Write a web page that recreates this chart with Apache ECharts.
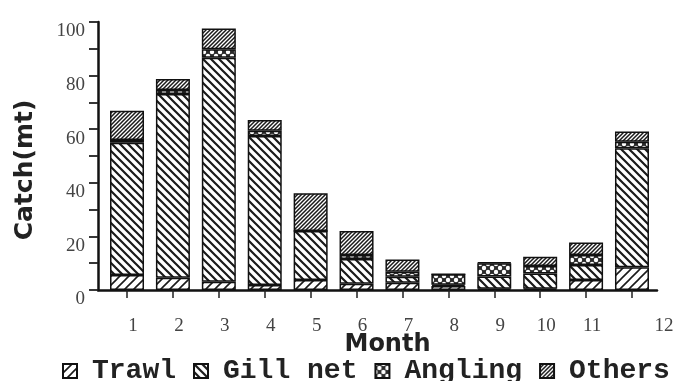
<!DOCTYPE html>
<html>
<head>
<meta charset="utf-8">
<script src="https://cdn.jsdelivr.net/npm/echarts@6/dist/echarts.min.js"></script>
<style>
html,body{margin:0;padding:0;background:#fff;}
#c{width:690px;height:381px;}
</style>
</head>
<body>
<div id="c"></div>
<script>
// ---- data ----
const months = [1, 2, 3, 4, 5, 6, 7, 8, 9, 10, 11, 12];
const monthLabels = ['1', '2', '3', '4', '5', '6', '7', '8', '9', '10', '11', '12'];
const seriesNames = ['Trawl', 'Gill net', 'Angling', 'Others'];
const trawl   = [5.6, 4.6, 3.1, 1.9, 3.7, 2.3, 2.7, 1.5, 0.5, 0.5, 3.7, 8.5];
const gillNet = [49.3, 68.5, 83.6, 55.6, 18.3, 9.3, 2.2, 0.5, 4.5, 5.7, 5.6, 44.4];
const angling = [1.1, 1.5, 3.1, 1.9, 0, 1.5, 1.9, 3.9, 5.0, 2.8, 3.8, 2.4];
const others  = [10.9, 4.1, 7.8, 4.0, 14.1, 8.9, 4.6, 0, 0.3, 3.4, 4.6, 3.8];
const yTicks = [0, 20, 40, 60, 80, 100];

// ---- patterns ----
function hatch(size, lw, dir) {
  const c = document.createElement('canvas');
  c.width = size; c.height = size;
  const g = c.getContext('2d');
  g.fillStyle = '#fff'; g.fillRect(0, 0, size, size);
  g.strokeStyle = '#1a1a1a'; g.lineWidth = lw;
  g.beginPath();
  if (dir === '/') {
    g.moveTo(0, size); g.lineTo(size, 0);
    g.moveTo(-size, size); g.lineTo(size, -size);
    g.moveTo(0, 2 * size); g.lineTo(2 * size, 0);
  } else {
    g.moveTo(0, 0); g.lineTo(size, size);
    g.moveTo(-size, 0); g.lineTo(size, 2 * size);
    g.moveTo(0, -size); g.lineTo(2 * size, size);
  }
  g.stroke();
  return { image: c, repeat: 'repeat' };
}
function dots() {
  const s = 8;
  const c = document.createElement('canvas');
  c.width = s; c.height = s;
  const g = c.getContext('2d');
  g.fillStyle = '#2a2a2a'; g.fillRect(0, 0, s, s);
  g.fillStyle = '#fff';
  [[0, 0], [s, 0], [0, s], [s, s], [s / 2, s / 2]].forEach(p => {
    g.beginPath(); g.arc(p[0], p[1], 2.2, 0, Math.PI * 2); g.fill();
  });
  return { image: c, repeat: 'repeat' };
}
const fills = [hatch(9, 1.6, '/'), hatch(8, 2.2, '\\'), dots(), hatch(4, 1.5, '/')];
const values = [trawl, gillNet, angling, others];

const chart = echarts.init(document.getElementById('c'), null, { renderer: 'canvas' });
const option = {
  backgroundColor: '#fff',
  animation: false,
  grid: { left: 98, right: 33, top: 22, bottom: 91, containLabel: false, outerBoundsMode: 'none' },
  legend: {
    left: 62, top: 357, padding: 0,
    itemWidth: 14, itemHeight: 14, itemGap: 17,
    icon: 'rect',
    data: seriesNames,
    textStyle: { fontFamily: 'Liberation Mono', fontSize: 28, fontWeight: 'bold', color: '#222', padding: [0, 0, 0, 10] }
  },
  xAxis: {
    type: 'value',
    min: 0.368, max: 12.545,
    name: 'Month', nameLocation: 'middle', nameGap: 43, nameMoveOverlap: false,
    nameTextStyle: { fontFamily: 'DejaVu Sans', fontWeight: 'bold', fontSize: 24, color: '#222', padding: [0, 0, 0, 20] },
    splitLine: { show: false },
    axisLine: { show: true, onZero: false, lineStyle: { color: '#111', width: 2.5 } },
    axisTick: { show: true, customValues: months, length: 8, lineStyle: { color: '#222', width: 1.5 } },
    axisLabel: {
      customValues: months,
      margin: 27,
      fontFamily: 'Liberation Serif', fontSize: 19, color: '#444',
      padding: [0, 0, 0, 12],
      formatter: v => {
        const i = months.indexOf(Math.round(v));
        const t = monthLabels[i];
        return i === months.length - 1 ? '{far|' + t + '}' : t;
      },
      rich: { far: { fontFamily: 'Liberation Serif', fontSize: 19, color: '#444', padding: [0, 0, 0, 52] } }
    }
  },
  yAxis: {
    type: 'value',
    min: 0, max: 100, interval: 10,
    name: 'Catch(mt)', nameLocation: 'middle', nameGap: 60, nameMoveOverlap: false,
    nameTextStyle: { fontFamily: 'DejaVu Sans', fontWeight: 'bold', fontSize: 25, color: '#222', padding: [0, 28, 0, 0] },
    splitLine: { show: false },
    axisLine: { show: true, lineStyle: { color: '#111', width: 2.5 } },
    axisTick: { show: true, length: 9, lineStyle: { color: '#222', width: 1.8 } },
    axisLabel: {
      margin: 13,
      fontFamily: 'Liberation Serif', fontSize: 19, color: '#444',
      verticalAlign: 'top',
      formatter: v => (yTicks.indexOf(v) >= 0 ? String(v) : '')
    }
  },
  series: seriesNames.map((name, k) => ({
    name: name,
    type: 'bar',
    stack: 'catch',
    barWidth: 34,
    data: months.map((m, i) => [values[k][i], m]),
    encode: { x: 1, y: 0 },
    itemStyle: { color: fills[k], borderColor: '#111', borderWidth: 1.5 },
    emphasis: { disabled: true }
  }))
};
chart.setOption(option);
</script>
</body>
</html>
